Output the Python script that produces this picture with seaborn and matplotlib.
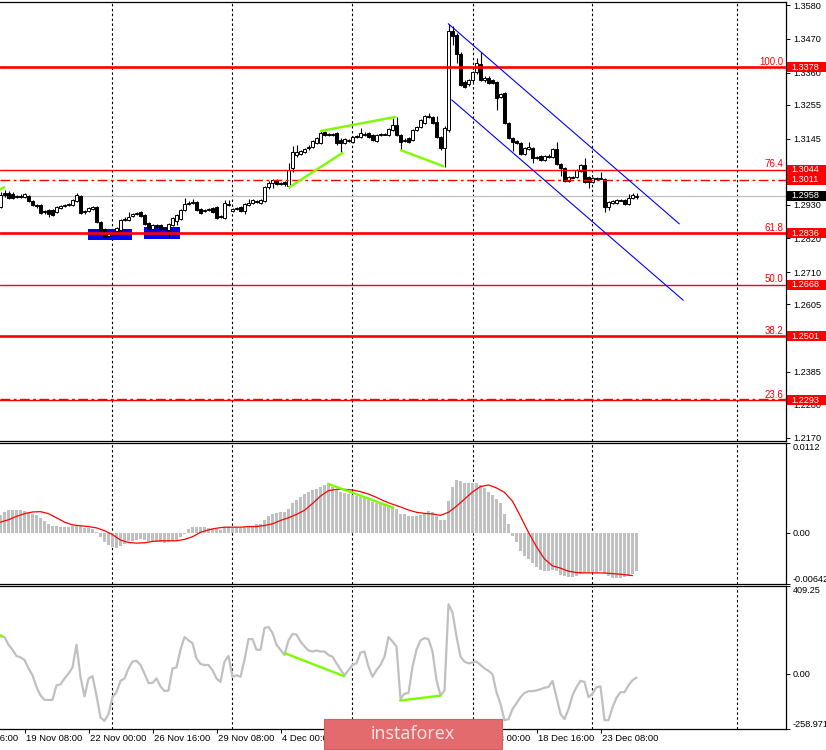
import numpy as np
import matplotlib
matplotlib.use("Agg")
import matplotlib.pyplot as plt
import matplotlib.transforms as mtransforms
from matplotlib.patches import Rectangle
import seaborn as sns

sns.set_style("white")
plt.rcParams['font.family'] = ['Liberation Sans', 'DejaVu Sans']

# ---------------- data ----------------
opens = [
    1.2923, 1.2968, 1.2968, 1.2965, 1.2958, 1.2958, 1.2955, 1.2958, 1.2942, 1.2929,
    1.2929, 1.2910, 1.2913, 1.2913, 1.2906, 1.2919, 1.2926, 1.2929, 1.2929, 1.2942,
    1.2958, 1.2906, 1.2910, 1.2916, 1.2923, 1.2874, 1.2851, 1.2828, 1.2838, 1.2845,
    1.2848, 1.2880, 1.2880, 1.2893, 1.2900, 1.2906, 1.2897, 1.2871, 1.2851, 1.2864,
    1.2864, 1.2854, 1.2848, 1.2864, 1.2877, 1.2884, 1.2913, 1.2932, 1.2936, 1.2939,
    1.2916, 1.2910, 1.2913, 1.2919, 1.2923, 1.2893, 1.2887, 1.2929, 1.2910, 1.2916,
    1.2923, 1.2910, 1.2929, 1.2936, 1.2942, 1.2936, 1.2942, 1.2988, 1.3001, 1.3010,
    1.3001, 1.3004, 1.2991, 1.3049, 1.3092, 1.3095, 1.3101, 1.3114, 1.3118, 1.3131,
    1.3131, 1.3167, 1.3160, 1.3160, 1.3163, 1.3141, 1.3131, 1.3137, 1.3134, 1.3150,
    1.3150, 1.3157, 1.3163, 1.3157, 1.3137, 1.3157, 1.3157, 1.3157, 1.3173, 1.3190,
    1.3157, 1.3137, 1.3147, 1.3141, 1.3173, 1.3183, 1.3196, 1.3216, 1.3216, 1.3199,
    1.3150, 1.3114, 1.3173, 1.3496, 1.3483, 1.3421, 1.3330, 1.3323, 1.3336, 1.3362,
    1.3388, 1.3336, 1.3343, 1.3336, 1.3330, 1.3281, 1.3294, 1.3196, 1.3147, 1.3137,
    1.3131, 1.3095, 1.3111, 1.3114, 1.3082, 1.3088, 1.3075, 1.3088, 1.3085, 1.3111,
    1.3062, 1.3049, 1.3007, 1.3017, 1.3020, 1.3039, 1.3059, 1.3020, 1.3004, 1.3014,
    1.3014, 1.3014, 1.2923, 1.2936, 1.2936, 1.2942, 1.2945, 1.2932, 1.2952, 1.2955,
]
highs = [
    1.2971, 1.2978, 1.2974, 1.2971, 1.2962, 1.2965, 1.2968, 1.2962, 1.2945, 1.2932,
    1.2932, 1.2913, 1.2916, 1.2916, 1.2926, 1.2929, 1.2932, 1.2936, 1.2949, 1.2968,
    1.2962, 1.2913, 1.2923, 1.2926, 1.2926, 1.2877, 1.2854, 1.2838, 1.2848, 1.2858,
    1.2884, 1.2890, 1.2906, 1.2903, 1.2906, 1.2910, 1.2900, 1.2874, 1.2867, 1.2867,
    1.2867, 1.2858, 1.2871, 1.2890, 1.2900, 1.2916, 1.2952, 1.2942, 1.2949, 1.2942,
    1.2919, 1.2916, 1.2919, 1.2923, 1.2926, 1.2897, 1.2945, 1.2945, 1.2919, 1.2923,
    1.2926, 1.2936, 1.2949, 1.2949, 1.2945, 1.2949, 1.2991, 1.3007, 1.3014, 1.3014,
    1.3004, 1.3007, 1.3065, 1.3121, 1.3124, 1.3108, 1.3114, 1.3124, 1.3141, 1.3150,
    1.3170, 1.3170, 1.3163, 1.3163, 1.3167, 1.3147, 1.3147, 1.3144, 1.3154, 1.3157,
    1.3180, 1.3167, 1.3167, 1.3160, 1.3160, 1.3163, 1.3163, 1.3180, 1.3213, 1.3216,
    1.3160, 1.3147, 1.3150, 1.3176, 1.3186, 1.3209, 1.3222, 1.3229, 1.3219, 1.3219,
    1.3154, 1.3186, 1.3519, 1.3512, 1.3490, 1.3428, 1.3336, 1.3339, 1.3366, 1.3408,
    1.3428, 1.3349, 1.3349, 1.3339, 1.3333, 1.3294, 1.3297, 1.3199, 1.3150, 1.3141,
    1.3134, 1.3118, 1.3134, 1.3118, 1.3088, 1.3092, 1.3092, 1.3095, 1.3114, 1.3134,
    1.3065, 1.3052, 1.3023, 1.3023, 1.3046, 1.3062, 1.3082, 1.3023, 1.3020, 1.3020,
    1.3036, 1.3017, 1.2942, 1.2945, 1.2949, 1.2949, 1.2949, 1.2965, 1.2968, 1.2968,
]
lows = [
    1.2919, 1.2955, 1.2949, 1.2949, 1.2952, 1.2952, 1.2952, 1.2939, 1.2926, 1.2919,
    1.2900, 1.2900, 1.2890, 1.2893, 1.2903, 1.2916, 1.2923, 1.2926, 1.2926, 1.2939,
    1.2900, 1.2900, 1.2906, 1.2913, 1.2871, 1.2845, 1.2822, 1.2825, 1.2835, 1.2841,
    1.2845, 1.2877, 1.2877, 1.2890, 1.2897, 1.2890, 1.2864, 1.2848, 1.2848, 1.2854,
    1.2848, 1.2848, 1.2825, 1.2861, 1.2864, 1.2880, 1.2910, 1.2929, 1.2932, 1.2910,
    1.2900, 1.2906, 1.2910, 1.2903, 1.2884, 1.2887, 1.2884, 1.2926, 1.2906, 1.2913,
    1.2906, 1.2900, 1.2926, 1.2932, 1.2936, 1.2932, 1.2939, 1.2981, 1.2984, 1.2994,
    1.2994, 1.2991, 1.2984, 1.3036, 1.3085, 1.3092, 1.3098, 1.3108, 1.3114, 1.3128,
    1.3128, 1.3154, 1.3154, 1.3154, 1.3124, 1.3101, 1.3128, 1.3134, 1.3131, 1.3147,
    1.3147, 1.3154, 1.3147, 1.3137, 1.3134, 1.3154, 1.3157, 1.3154, 1.3170, 1.3154,
    1.3108, 1.3134, 1.3131, 1.3137, 1.3170, 1.3180, 1.3193, 1.3213, 1.3193, 1.3147,
    1.3108, 1.3052, 1.3167, 1.3450, 1.3392, 1.3317, 1.3310, 1.3317, 1.3330, 1.3356,
    1.3333, 1.3330, 1.3323, 1.3323, 1.3238, 1.3278, 1.3193, 1.3144, 1.3105, 1.3128,
    1.3092, 1.3092, 1.3108, 1.3065, 1.3079, 1.3072, 1.3072, 1.3082, 1.3082, 1.3059,
    1.3023, 1.3004, 1.3004, 1.3017, 1.3017, 1.3036, 1.3001, 1.2984, 1.3001, 1.3014,
    1.3014, 1.2906, 1.2913, 1.2932, 1.2932, 1.2942, 1.2929, 1.2929, 1.2949, 1.2949,
]
closes = [
    1.2962, 1.2962, 1.2952, 1.2952, 1.2955, 1.2955, 1.2965, 1.2942, 1.2929, 1.2926,
    1.2903, 1.2906, 1.2900, 1.2897, 1.2923, 1.2926, 1.2929, 1.2932, 1.2945, 1.2962,
    1.2903, 1.2910, 1.2919, 1.2923, 1.2874, 1.2848, 1.2825, 1.2835, 1.2841, 1.2854,
    1.2880, 1.2884, 1.2890, 1.2900, 1.2903, 1.2893, 1.2867, 1.2851, 1.2864, 1.2861,
    1.2851, 1.2851, 1.2867, 1.2887, 1.2897, 1.2913, 1.2932, 1.2936, 1.2939, 1.2913,
    1.2903, 1.2913, 1.2916, 1.2906, 1.2887, 1.2890, 1.2936, 1.2932, 1.2916, 1.2919,
    1.2910, 1.2932, 1.2936, 1.2945, 1.2939, 1.2945, 1.2988, 1.3001, 1.3010, 1.2997,
    1.2997, 1.2997, 1.3043, 1.3101, 1.3101, 1.3105, 1.3111, 1.3118, 1.3137, 1.3147,
    1.3163, 1.3157, 1.3157, 1.3157, 1.3131, 1.3131, 1.3144, 1.3141, 1.3150, 1.3154,
    1.3163, 1.3160, 1.3150, 1.3141, 1.3157, 1.3160, 1.3160, 1.3176, 1.3190, 1.3157,
    1.3134, 1.3141, 1.3134, 1.3173, 1.3183, 1.3206, 1.3219, 1.3219, 1.3196, 1.3150,
    1.3114, 1.3180, 1.3496, 1.3480, 1.3421, 1.3320, 1.3313, 1.3336, 1.3362, 1.3392,
    1.3336, 1.3343, 1.3326, 1.3326, 1.3278, 1.3291, 1.3196, 1.3147, 1.3134, 1.3131,
    1.3095, 1.3114, 1.3118, 1.3082, 1.3085, 1.3075, 1.3088, 1.3085, 1.3111, 1.3062,
    1.3049, 1.3007, 1.3020, 1.3020, 1.3043, 1.3059, 1.3004, 1.3004, 1.3017, 1.3017,
    1.3017, 1.2923, 1.2939, 1.2942, 1.2945, 1.2945, 1.2932, 1.2952, 1.2962, 1.2958,
]

macd_hist = [
    0.00216, 0.00258, 0.00279, 0.00279, 0.00279, 0.00279, 0.00271, 0.00258, 0.00237, 0.00216,
    0.00182, 0.00144, 0.00110, 0.00089, 0.00080, 0.00076, 0.00076, 0.00076, 0.00080, 0.00089,
    0.00080, 0.00059, 0.00055, 0.00047, 0.00004, -0.00059, -0.00123, -0.00157, -0.00178, -0.00186,
    -0.00165, -0.00144, -0.00110, -0.00102, -0.00089, -0.00080, -0.00093, -0.00102, -0.00110, -0.00114,
    -0.00123, -0.00131, -0.00114, -0.00102, -0.00089, -0.00059, -0.00017, 0.00047, 0.00076, 0.00076,
    0.00076, 0.00068, 0.00059, 0.00059, 0.00047, 0.00034, 0.00068, 0.00076, 0.00059, 0.00059,
    0.00059, 0.00068, 0.00080, 0.00089, 0.00102, 0.00102, 0.00152, 0.00203, 0.00228, 0.00245,
    0.00258, 0.00258, 0.00300, 0.00364, 0.00406, 0.00440, 0.00478, 0.00503, 0.00533, 0.00546,
    0.00575, 0.00596, 0.00605, 0.00575, 0.00533, 0.00512, 0.00499, 0.00482, 0.00470, 0.00457,
    0.00448, 0.00427, 0.00406, 0.00385, 0.00372, 0.00364, 0.00343, 0.00334, 0.00321, 0.00300,
    0.00237, 0.00228, 0.00203, 0.00203, 0.00203, 0.00216, 0.00245, 0.00271, 0.00258, 0.00203,
    0.00152, 0.00160, 0.00393, 0.00575, 0.00660, 0.00639, 0.00626, 0.00618, 0.00618, 0.00626,
    0.00596, 0.00554, 0.00512, 0.00470, 0.00415, 0.00364, 0.00228, 0.00102, -0.00038, -0.00123,
    -0.00228, -0.00292, -0.00334, -0.00385, -0.00431, -0.00461, -0.00474, -0.00474, -0.00461, -0.00482,
    -0.00525, -0.00546, -0.00554, -0.00554, -0.00537, -0.00516, -0.00503, -0.00503, -0.00495, -0.00491,
    -0.00474, -0.00503, -0.00546, -0.00567, -0.00567, -0.00567, -0.00558, -0.00537, -0.00516, -0.00482,
]

signal_idx = list(range(0, 160, 2))
signal_vals = [
    0.00131, 0.00161, 0.00203, 0.00237, 0.00258, 0.00262, 0.00237, 0.00186, 0.00131, 0.00097,
    0.00085, 0.00076, 0.00059, 0.00025, -0.00025, -0.00093, -0.00123, -0.00131, -0.00127, -0.00110,
    -0.00102, -0.00102, -0.00102, -0.00085, -0.00051, 0.00004, 0.00034, 0.00055, 0.00068, 0.00068,
    0.00068, 0.00076, 0.00076, 0.00089, 0.00110, 0.00152, 0.00186, 0.00228, 0.00279, 0.00364,
    0.00457, 0.00525, 0.00541, 0.00541, 0.00533, 0.00512, 0.00482, 0.00440, 0.00393, 0.00355,
    0.00321, 0.00283, 0.00254, 0.00241, 0.00233, 0.00216, 0.00254, 0.00330, 0.00419, 0.00508,
    0.00575, 0.00596, 0.00558, 0.00503, 0.00393, 0.00203, 0.00004, -0.00178, -0.00330, -0.00415,
    -0.00444, -0.00482, -0.00499, -0.00503, -0.00503, -0.00503, -0.00508, -0.00516, -0.00525, -0.00537,
]

cci = [
    174, 171, 135, 111, 82, 76, 64, 24, -8, -63,
    -102, -123, -123, -123, -55, -50, -23, 0, 29, 135,
    -15, -107, -23, -12, -102, -205, -221, -189, -110, -87,
    -34, -23, 24, 56, 60, 40, 0, -44, -44, -23,
    -60, -82, -79, 24, 29, 111, 171, 155, 142, 71,
    45, 40, 40, 16, -23, -39, 56, 82, -15, -8,
    -15, 64, 161, 161, 111, 111, 213, 218, 190, 135,
    111, 87, 155, 185, 182, 150, 127, 108, 103, 108,
    103, 103, 87, 79, 48, 19, -8, 16, 40, 48,
    98, 103, 32, -15, 16, 40, 79, 171, 150, 127,
    -118, -94, -91, 32, 111, 155, 166, 161, 103, -31,
    -102, -79, 324, 285, 174, 79, 56, 48, 51, 56,
    40, 24, 13, -3, -87, -142, -218, -213, -166, -139,
    -110, -91, -82, -82, -79, -73, -66, -63, -34, -110,
    -189, -213, -166, -102, -63, -34, -39, -110, -94, -63,
    -60, -218, -218, -158, -113, -87, -87, -55, -31, -19,
]

price_ticks = [1.3580, 1.3470, 1.3360, 1.3255, 1.3145, 1.3040, 1.2930,
               1.2820, 1.2710, 1.2605, 1.2500, 1.2385, 1.2280, 1.2170]
fib_levels = [1.3378, 1.3044, 1.2836, 1.2668, 1.2501, 1.2293]
fib_names = ["100.0", "76.4", "61.8", "50.0", "38.2", "23.6"]
fib_thick = [True, False, True, False, True, False]
dashdot_levels = [1.3011, 1.2296]
box_levels = [1.3378, 1.3044, 1.3011, 1.2836, 1.2668, 1.2501, 1.2293]
last_price = 1.2958

separators = [27.9, 57.9, 87.9, 118.0, 147.9, 184.0]
date_pos = [-10, 6, 22, 38, 54, 70, 86, 102, 118, 134, 150]
date_labels = ["13 Nov 16:00", "19 Nov 08:00", "22 Nov 00:00", "26 Nov 16:00",
               "29 Nov 08:00", "4 Dec 00:00", "6 Dec 16:00", "11 Dec 08:00",
               "16 Dec 00:00", "18 Dec 16:00", "23 Dec 08:00"]

channel_upper = ([111.95, 169.7], [1.3519, 1.2867])
channel_lower = ([112.8, 170.7], [1.3271, 1.2618])
green_main = [([72.05, 85.7], [1.2985, 1.3100]),
              ([79.9, 98.9], [1.3169, 1.3216]),
              ([99.9, 110.9], [1.3108, 1.3054]),
              ([-1.0, 1.1], [1.2971, 1.2988])]
blue_boxes = [(21.9, 32.9, 1.2815, 1.2851), (35.9, 44.9, 1.2818, 1.2858)]
green_macd = [([81.95, 98.2], [0.00608, 0.00312])]
green_cci = [([71.1, 85.9], [95, -12]), ([99.9, 110.0], [-126, -103]),
             ([-0.6, 0.4], [182, 176])]

macd_ticks = [0.0112, 0.0, -0.00642]
macd_tick_labels = ["0.0112", "0.00", "-0.00642"]
cci_ticks = [409.25, 0.0, -258.971]
cci_tick_labels = ["409.25", "0.00", "-258.971"]

# ---------------- figure ----------------
W, H = 826, 750
fig = plt.figure(figsize=(W / 100, H / 100), dpi=100)


def fx(px):
    return px / W


def fy(py):
    return 1 - py / H


RIGHT = 786
ax_main = fig.add_axes([0, fy(441), fx(RIGHT), (441 - 2) / H])
ax_macd = fig.add_axes([0, fy(584), fx(RIGHT), (584 - 443) / H])
ax_cci = fig.add_axes([0, fy(729), fx(RIGHT), (729 - 586) / H])

XLIM = (-0.125, (RIGHT - 0.5) / 4)
FS = 6.6
for ax in (ax_main, ax_macd, ax_cci):
    ax.set_xlim(*XLIM)
    ax.set_facecolor("white")
    for s in ("top", "right", "bottom"):
        ax.spines[s].set_visible(True)
        ax.spines[s].set_color("black")
        ax.spines[s].set_linewidth(0.9)
    ax.spines["left"].set_visible(False)
    ax.yaxis.tick_right()
    ax.tick_params(axis="y", which="both", right=True, left=False, length=3,
                   width=0.7, pad=2, labelsize=FS, colors="black", direction="out")
    ax.tick_params(axis="x", bottom=False, labelbottom=False)
    for xs in separators:
        ax.axvline(xs, color="black", lw=0.8, ls=(0, (2.2, 2.2)), zorder=0.5)

# ---- main price panel ----
ax_main.set_ylim(1.21595, 1.35898)
idx = np.arange(len(opens))
o = np.array(opens)
c = np.array(closes)
up = c >= o
ax_main.vlines(idx, lows, highs, color="black", lw=0.8, zorder=3)
ax_main.bar(idx[up], np.maximum(c[up] - o[up], 0.00004), bottom=o[up], width=0.72,
            color="white", edgecolor="black", linewidth=0.7, zorder=4)
ax_main.bar(idx[~up], o[~up] - c[~up], bottom=c[~up], width=0.72,
            color="black", edgecolor="black", linewidth=0.7, zorder=4)

for (x0, x1, y0, y1) in blue_boxes:
    ax_main.add_patch(Rectangle((x0, y0), x1 - x0, y1 - y0, facecolor="#0000FF",
                                edgecolor="none", zorder=1))

ax_main.axhline(last_price, color="#C0C0C0", lw=0.9, zorder=2)
for lvl, thick in zip(fib_levels, fib_thick):
    ax_main.axhline(lvl, color="#FF0000", lw=1.9 if thick else 1.0, zorder=5)
for lvl in dashdot_levels:
    ax_main.axhline(lvl, color="#FF0000", lw=1.0, ls=(0, (7, 2.5, 2, 2.5)), zorder=5)

ax_main.plot(*channel_upper, color="#0000FF", lw=0.8, zorder=5)
ax_main.plot(*channel_lower, color="#0000FF", lw=0.8, zorder=5)
for xs, ys in green_main:
    ax_main.plot(xs, ys, color="#7CFC00", lw=1.7, zorder=6, solid_capstyle="butt")

ax_main.set_yticks(price_ticks)
ax_main.set_yticklabels([f"{v:.4f}" for v in price_ticks])

trans_m = mtransforms.blended_transform_factory(ax_main.transAxes, ax_main.transData)
px_price = (1.35898 - 1.21595) / 439.0
for lvl in box_levels:
    ax_main.add_patch(Rectangle((1.0 + 1.0 / RIGHT, lvl - 5 * px_price), 0.06, 10 * px_price,
                                transform=trans_m, facecolor="#FF0000", edgecolor="none",
                                clip_on=False, zorder=10))
    ax_main.text(1.0 + 5.0 / RIGHT, lvl, f"{lvl:.4f}", transform=trans_m, ha="left",
                 va="center", fontsize=FS, color="white", clip_on=False, zorder=11)
ax_main.add_patch(Rectangle((1.0 + 1.0 / RIGHT, last_price - 5 * px_price), 0.06, 10 * px_price,
                            transform=trans_m, facecolor="black", edgecolor="none",
                            clip_on=False, zorder=10))
ax_main.text(1.0 + 5.0 / RIGHT, last_price, f"{last_price:.4f}", transform=trans_m,
             ha="left", va="center", fontsize=FS, color="white", clip_on=False, zorder=11)
for lvl, name in zip(fib_levels, fib_names):
    ax_main.text(1.0 - 3.0 / RIGHT, lvl + 2.5 * px_price, name, transform=trans_m,
                 ha="right", va="baseline", fontsize=FS + 0.4, color="#FF0000", zorder=11)

# ---- MACD panel ----
ax_macd.set_ylim(-0.00642, 0.0112)
ax_macd.bar(idx, macd_hist, width=0.75, color="#C0C0C0", edgecolor="none", zorder=2)
sns.lineplot(x=signal_idx, y=signal_vals, ax=ax_macd, color="#FF0000", lw=0.9, zorder=4)
for xs, ys in green_macd:
    ax_macd.plot(xs, ys, color="#7CFC00", lw=1.7, zorder=6)
ax_macd.set_yticks(macd_ticks)
ax_macd.set_yticklabels(macd_tick_labels)
labs = ax_macd.get_yticklabels()
labs[0].set_va("top")
labs[-1].set_va("bottom")
ax_macd.set_xlabel("")
ax_macd.set_ylabel("")

# ---- CCI panel ----
ax_cci.set_ylim(-258.971, 409.25)
sns.lineplot(x=idx, y=cci, ax=ax_cci, color="#C0C0C0", lw=1.6, zorder=3)
for xs, ys in green_cci:
    ax_cci.plot(xs, ys, color="#7CFC00", lw=1.7, zorder=6)
ax_cci.set_yticks(cci_ticks)
ax_cci.set_yticklabels(cci_tick_labels)
labs = ax_cci.get_yticklabels()
labs[0].set_va("top")
labs[-1].set_va("bottom")
ax_cci.set_xlabel("")
ax_cci.set_ylabel("")

# time axis
ax_cci.set_xticks([p for p in date_pos if p >= 0])
ax_cci.tick_params(axis="x", bottom=True, labelbottom=False, length=3, width=0.7,
                   direction="out", colors="black")
trans_t = mtransforms.blended_transform_factory(ax_cci.transData, ax_cci.transAxes)
for p, lab in zip(date_pos, date_labels):
    ax_cci.text(p + 0.25, -0.063, lab, transform=trans_t, ha="left", va="center",
                fontsize=6.8, color="black", clip_on=False)

# watermark
fig.add_artist(Rectangle((fx(324), fy(749)), (502 - 324) / W, 30 / H,
                         transform=fig.transFigure, facecolor="#E36B6D",
                         edgecolor="#D35C5E", linewidth=0.8, zorder=20))
fig.text(fx(413), fy(734), "instaforex", ha="center", va="center", fontsize=13,
         color="#FBE6E6", family=["Open Sans", "DejaVu Sans"], zorder=21)

fig.savefig("out.png", dpi=100)
